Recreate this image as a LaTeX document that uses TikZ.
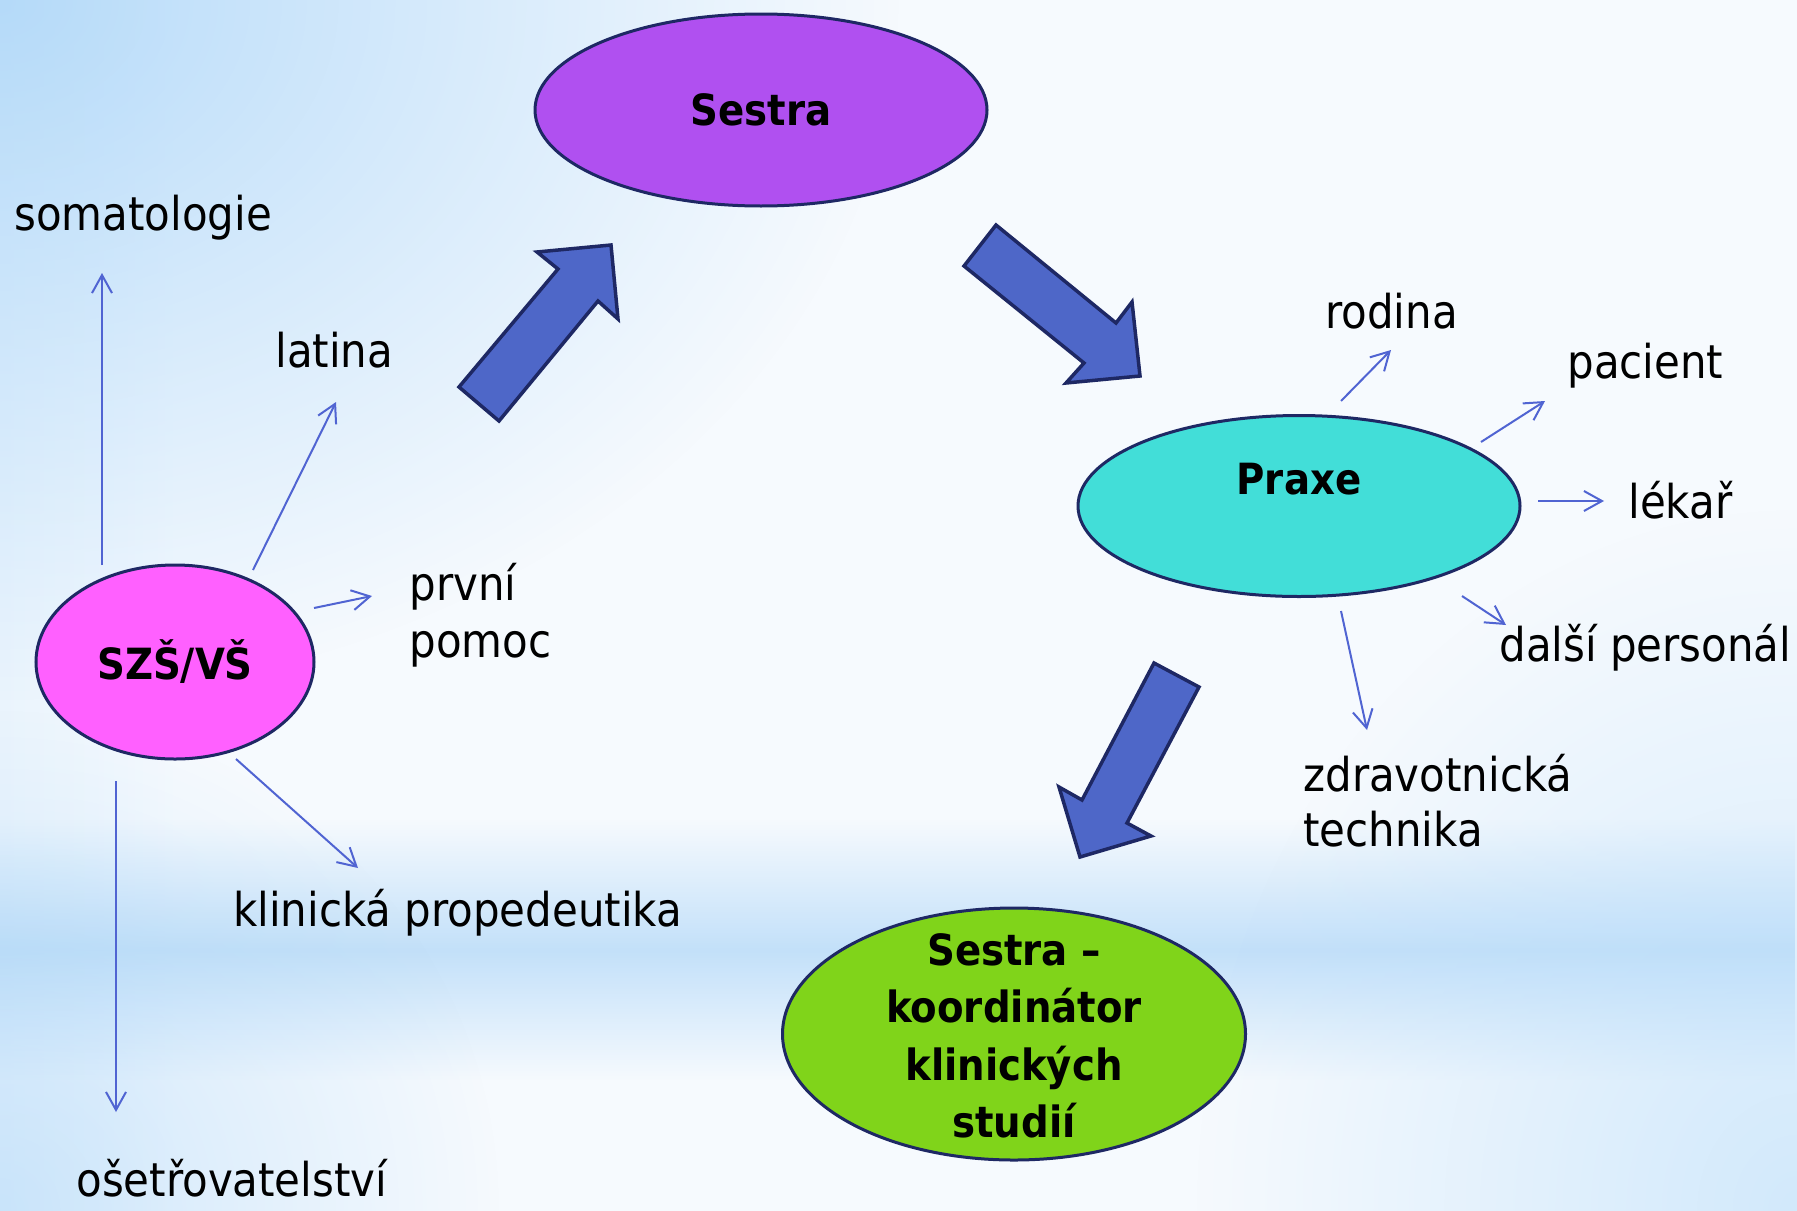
\documentclass[tikz,border=0pt]{standalone}
\usepackage{fontspec}
\setmainfont{DejaVu Sans Condensed}
\usetikzlibrary{arrows.meta,fadings,shapes.geometric}

\definecolor{bgblue}{RGB}{168,212,248}
\definecolor{bgblueR}{RGB}{186,222,250}
\definecolor{bgwhite}{RGB}{246,250,254}
\definecolor{bandblue}{RGB}{178,216,248}
\definecolor{navy}{RGB}{30,40,100}
\definecolor{thinblue}{RGB}{80,100,210}
\definecolor{bigblue}{RGB}{78,103,200}
\definecolor{sestrafill}{RGB}{176,80,240}
\definecolor{praxefill}{RGB}{66,222,216}
\definecolor{szsfill}{RGB}{255,96,255}
\definecolor{koordfill}{RGB}{128,212,26}

\pgfdeclarehorizontalshading{bgh}{100bp}{color(0bp)=(bgblue); color(6bp)=(bgblue!75!bgwhite); color(30bp)=(bgwhite); color(76bp)=(bgwhite); color(93bp)=(bgblueR!55!bgwhite); color(100bp)=(bgblueR)}
\tikzfading[name=bandfade, top color=transparent!100, bottom color=transparent!100, middle color=transparent!0]
\tikzfading[name=blobfade, inner color=transparent!0, outer color=transparent!100]

\tikzset{
  lbl/.style={anchor=base west, inner sep=0pt, font=\fontsize{23.3pt}{28.5pt}\selectfont, text=black},
  boldtxt/.style={font=\fontsize{21.5pt}{28.7pt}\selectfont\bfseries, text=black, align=center},
  ell/.style={ellipse, draw=navy, line width=1.5pt, inner sep=0pt, boldtxt},
  thin/.style={draw=thinblue, line width=1pt, -{Straight Barb[length=9pt, width=10pt, line width=1pt]}},
  big/.style={fill=bigblue, draw=navy, line width=1.75pt, line join=miter}
}

\begin{document}
\begin{tikzpicture}[x=0.5pt, y=-0.5pt]
% background
\useasboundingbox (0,0) rectangle (1797,1210);
\shade[shading=bgh] (0,0) rectangle (1797,1210);
\fill[bgblue, path fading=blobfade, opacity=0.8] (0,0) ellipse [x radius=900, y radius=700];
\fill[bandblue, path fading=bandfade, opacity=0.75] (0,820) rectangle (1797,1080);
\fill[bgblue, path fading=blobfade, opacity=0.5] (0,1210) ellipse [x radius=500, y radius=500];
\fill[bgblueR, path fading=blobfade, opacity=0.6] (1797,1210) ellipse [x radius=600, y radius=700];

% ellipses
\node[ell, fill=sestrafill, minimum width=226pt, minimum height=96pt] (sestra) at (761,110) {Sestra};
\node[ell, fill=praxefill, minimum width=221pt, minimum height=90.5pt,
      label={[boldtxt, yshift=13.5pt]center:Praxe}] (praxe) at (1299,506) {};
\node[ell, fill=szsfill, minimum width=139pt, minimum height=97pt] (szs) at (175,662) {SZŠ/VŠ};
\node[ell, fill=koordfill, minimum width=231.5pt, minimum height=126pt,
      label={[boldtxt, yshift=-1pt]center:{Sestra –\\koordinátor\\klinických\\studií}}] (koord) at (1014,1034) {};

% big arrows
\draw[big] (459,387) -- (499,421) -- (598,301) -- (618,319) -- (611,245) -- (537,252) -- (558,269) -- cycle;
\draw[big] (996,225) -- (964,266) -- (1084,363) -- (1066,383) -- (1140,376) -- (1132,302) -- (1116,323) -- cycle;
\draw[big] (1154,663) -- (1199,687) -- (1127,823) -- (1151,836) -- (1080,857) -- (1059,787) -- (1082,800) -- cycle;

% labels
\node[lbl] (som) at (14,230) {somatologie};
\node[lbl] (lat) at (275,367) {latina};
\node[lbl] (prv) at (409,600) {první};
\node[lbl] (pom) at (409,657) {pomoc};
\node[lbl] (kli) at (233,926) {klinická propedeutika};
\node[lbl] (ose) at (76,1196) {ošetřovatelství};
\node[lbl] (rod) at (1325,328) {rodina};
\node[lbl] (pac) at (1567,378) {pacient};
\node[lbl] (lek) at (1628,518) {lékař};
\node[lbl] (dal) at (1499,661) {další personál};
\node[lbl] (zdr) at (1303,791) {zdravotnická};
\node[lbl] (tec) at (1303,846) {technika};

% connector end points
\coordinate (somS) at (102,565);  \coordinate (somE) at (102,273);
\coordinate (latS) at (253,570);  \coordinate (latE) at (336,402);
\coordinate (prvS) at (314,608);  \coordinate (prvE) at (372,596);
\coordinate (kliS) at (236,759);  \coordinate (kliE) at (358,868);
\coordinate (oseS) at (116,781);  \coordinate (oseE) at (116,1112);
\coordinate (rodS) at (1341,401); \coordinate (rodE) at (1391,350);
\coordinate (pacS) at (1481,442); \coordinate (pacE) at (1545,401);
\coordinate (lekS) at (1538,501); \coordinate (lekE) at (1604,501);
\coordinate (dalS) at (1462,596); \coordinate (dalE) at (1506,625);
\coordinate (zdrS) at (1341,611); \coordinate (zdrE) at (1367,730);

\foreach \n in {som,lat,prv,kli,ose,rod,pac,lek,dal,zdr}
  \draw[thin] (\n S) -- (\n E);
\end{tikzpicture}
\end{document}
